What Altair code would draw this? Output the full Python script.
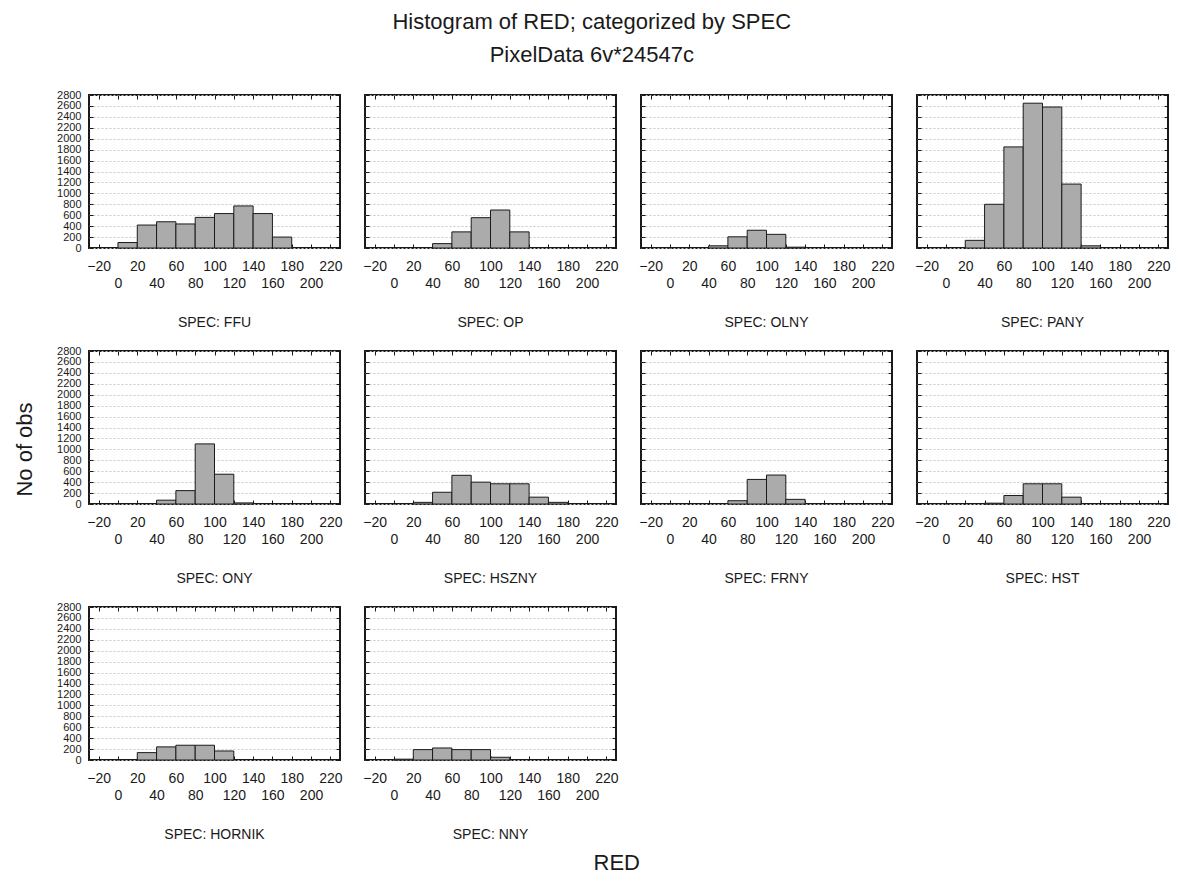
import altair as alt
import pandas as pd

# ---- data ----
specs = ["FFU", "OP", "OLNY", "PANY", "ONY", "HSZNY", "FRNY", "HST", "HORNIK", "NNY"]
bin_low = [0, 20, 40, 60, 80, 100, 120, 140, 160, 180]
bin_width = 20

ffu = [100, 420, 480, 440, 560, 630, 770, 630, 200, 0]
op = [0, 0, 80, 295, 555, 695, 295, 0, 0, 0]
olny = [0, 0, 40, 205, 325, 250, 15, 0, 0, 0]
pany = [0, 140, 800, 1850, 2650, 2580, 1170, 40, 0, 0]
ony = [0, 0, 70, 245, 1100, 545, 20, 0, 0, 0]
hszny = [0, 30, 215, 525, 400, 370, 370, 125, 30, 0]
frny = [0, 0, 0, 60, 450, 530, 85, 0, 0, 0]
hst = [0, 0, 15, 155, 370, 370, 125, 0, 0, 0]
hornik = [0, 135, 240, 270, 270, 165, 0, 0, 0, 0]
nny = [15, 190, 220, 190, 190, 50, 0, 0, 0, 0]

series = [ffu, op, olny, pany, ony, hszny, frny, hst, hornik, nny]

x_ticks = list(range(-20, 221, 20))
y_ticks = list(range(0, 2801, 200))

FONT = "Liberation Sans"
INK = "#1a1a1a"

xs = alt.Scale(domain=[-30, 230], nice=False, zero=False)
ys = alt.Scale(domain=[0, 2800], nice=False)


def panel(name, counts, first_col, y_title):
    df = pd.DataFrame({
        "lo": bin_low,
        "hi": [b + bin_width for b in bin_low],
        "n": counts,
    })
    df = df[df["n"] > 0]
    base = alt.Chart(df)

    y_axis_kw = dict(
        orient="left", values=y_ticks, format="d", grid=True, gridColor="#c8c8c8",
        gridDash=[2, 2], gridWidth=1, domain=False, tickSize=4, offset=-4,
        tickColor=INK, labels=first_col, labelFontSize=11, labelFont=FONT,
        labelColor=INK, labelOverlap=False, labelFlush=False, labelPadding=8,
    )
    if y_title:
        y_axis_kw.update(title="No of obs", titleFontSize=22, titleFont=FONT,
                         titleFontWeight="normal", titleColor=INK, titlePadding=20,
                         titleY=98)
    else:
        y_axis_kw.update(title=None)

    bars = base.mark_bar(fill="#ababab", stroke=INK, strokeWidth=1).encode(
        x=alt.X("lo:Q", scale=xs, axis=alt.Axis(
            orient="bottom", values=x_ticks, title=None, grid=False, domain=False,
            tickSize=4, offset=-4, tickColor=INK, labelFontSize=14, labelFont=FONT,
            labelColor=INK, labelOverlap=False, labelFlush=False,
            labelPadding={"condition": {"test": "datum.value % 40 == 0", "value": 28},
                          "value": 11},
        )),
        x2="hi:Q",
        y=alt.Y("n:Q", scale=ys, axis=alt.Axis(**y_axis_kw)),
        y2=alt.datum(0),
    )
    frame_ticks = base.mark_bar(opacity=0).encode(
        x=alt.X("lo:Q", scale=xs, axis=alt.Axis(
            orient="top", values=x_ticks, title=None, labels=False, grid=False,
            domain=False, tickSize=4, offset=-4, tickColor=INK)),
        x2="hi:Q",
        y=alt.Y("n:Q", scale=ys, axis=alt.Axis(
            orient="right", values=y_ticks, title=None, labels=False, grid=False,
            domain=False, tickSize=4, offset=-4, tickColor=INK)),
        y2=alt.datum(0),
    )
    return alt.layer(bars, frame_ticks).resolve_axis(
        x="independent", y="independent"
    ).properties(
        width=251, height=153,
        title=alt.TitleParams("SPEC: " + name, orient="bottom", fontSize=14,
                              font=FONT, fontWeight="normal", color=INK, offset=26),
    )


panels = [panel(n, c, i % 4 == 0, i == 4) for i, (n, c) in enumerate(zip(specs, series))]

grid = alt.concat(
    *panels, columns=4, bounds="flush", spacing={"row": 103, "column": 25}
).properties(
    title=alt.TitleParams(
        ["Histogram of RED; categorized by SPEC", "PixelData 6v*24547c"],
        fontSize=22, font=FONT, fontWeight="normal", color=INK, lineHeight=33,
        anchor="middle", offset=21,
    )
)

chart = alt.vconcat(grid).properties(
    title=alt.TitleParams("RED", orient="bottom", fontSize=22, font=FONT,
                          fontWeight="normal", color=INK, anchor="middle",
                          offset=10, dx=25),
    padding={"left": 12, "top": 11, "right": 5, "bottom": 5},
).configure(background="white").configure_view(stroke=INK, strokeWidth=2)

chart.save("out.html", embed_options={"renderer": "svg", "actions": False})
